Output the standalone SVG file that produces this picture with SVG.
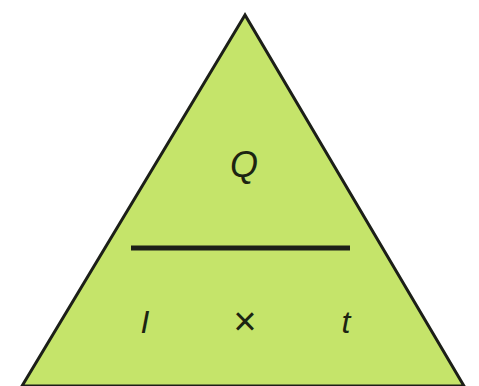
<svg xmlns="http://www.w3.org/2000/svg" width="479" height="386" viewBox="0 0 479 386">
<style>
.lbl{font-family:"Liberation Sans",Arial,sans-serif;font-style:italic;fill:#1c2412;text-anchor:middle}
</style>
<rect width="479" height="386" fill="#ffffff"/>
<g id="triangle">
<polygon points="245,15 22,386 464,386" fill="#c5e46a" stroke="#1c1f18" stroke-width="3" stroke-linejoin="miter"/>
</g>
<g id="fraction">
<line x1="131" y1="248" x2="350" y2="248" stroke="#1c1f18" stroke-width="5"/>
</g>
<g id="Q"><text class="lbl" x="244" y="177" font-size="36">Q</text></g>
<g id="I"><text class="lbl" x="145" y="333" font-size="32">I</text></g>
<g id="times"><text x="245" y="335" font-size="40" font-family="Liberation Sans,Arial,sans-serif" fill="#1c2412" text-anchor="middle">×</text></g>
<g id="t"><text class="lbl" x="346" y="333" font-size="32">t</text></g>
</svg>
